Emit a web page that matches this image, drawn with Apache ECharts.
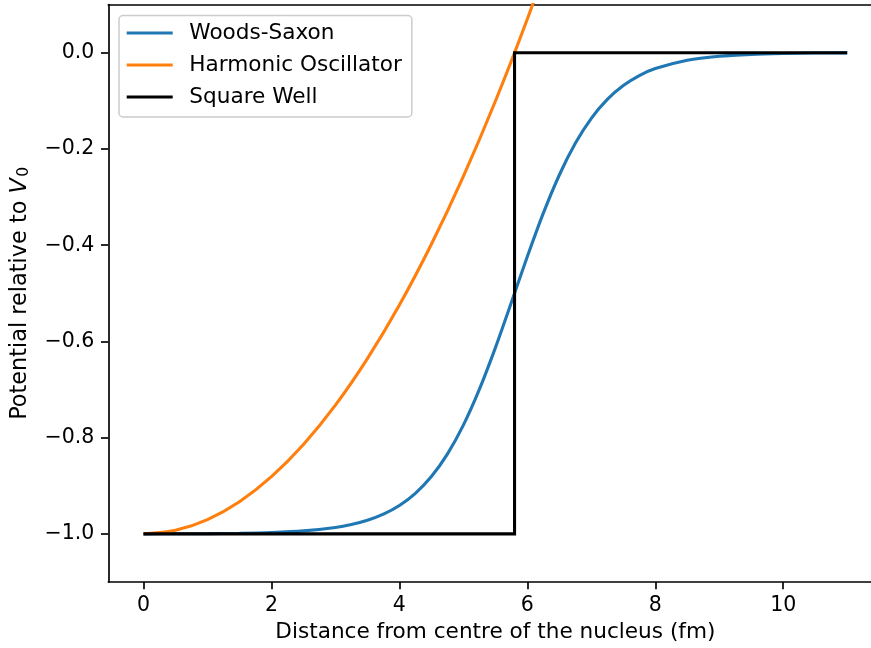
<!DOCTYPE html>
<html>
<head>
<meta charset="utf-8">
<script src="https://cdn.jsdelivr.net/npm/echarts@6/dist/echarts.min.js"></script>
<style>
  html, body { margin: 0; padding: 0; background: #fff; overflow: hidden; }
  #chart { width: 871px; height: 648px; }
</style>
</head>
<body>
<div id="chart"></div>
<script>
// Radial distance samples (fm)
const woodsSaxonR = [0, 0.5, 1, 1.5, 2, 2.5, 3, 3.25, 3.5, 3.75, 4, 4.25, 4.5, 4.75, 5, 5.25, 5.5, 5.75,
  6, 6.25, 6.5, 6.75, 7, 7.25, 7.5, 7.75, 8, 8.5, 9, 9.5, 10, 10.5, 11];
// Woods-Saxon potential, in units of V0
const woodsSaxonV = [-0.9999, -0.9997, -0.9994, -0.9987, -0.9971, -0.9938, -0.9867, -0.9806, -0.9718,
  -0.9591, -0.9410, -0.9157, -0.8808, -0.8342, -0.7739, -0.6997, -0.6134, -0.5192,
  -0.4237, -0.3335, -0.2541, -0.1883, -0.1363, -0.0970, -0.0682, -0.0474, -0.0328,
  -0.0155, -0.0072, -0.0034, -0.0016, -0.0007, -0.0003];

const oscillatorR = [0, 0.5, 1, 1.5, 2, 2.5, 3, 3.5, 4, 4.5, 5, 5.5, 6, 6.5];
// Harmonic oscillator potential, in units of V0
const oscillatorV = [-1.0, -0.9926, -0.9703, -0.9331, -0.8811, -0.8142, -0.7325, -0.6358,
  -0.5244, -0.3980, -0.2568, -0.1008, 0.0702, 0.2560];

// Square well corners
const squareR = [0, 5.8, 5.8, 11];
const squareV = [-1.0, -1.0, 0.0, 0.0];

const xTicks = [0, 2, 4, 6, 8, 10];
const yTicks = [-1.0, -0.8, -0.6, -0.4, -0.2, 0.0];

const seriesNames = ['Woods-Saxon', 'Harmonic Oscillator', 'Square Well'];
const seriesColors = ['#1f77b4', '#ff7f0e', '#000000'];

const pairs = (xs, ys) => xs.map((x, i) => [x, ys[i]]);
const FONT = 'DejaVu Sans';
const TICK_FS = 20.5;
const TEXT_FS = 21.6;
const YNAME_FS = 22.4;
const X_MIN = -0.55, X_MAX = 11.55;

const chart = echarts.init(document.getElementById('chart'), null, { renderer: 'canvas' });

const spine = { show: true, onZero: false, lineStyle: { color: '#000', width: 1.67 } };
const tickStyle = { show: true, length: 7.3, lineStyle: { color: '#000', width: 1.67 } };

chart.setOption({
  animation: false,
  backgroundColor: '#fff',
  grid: {
    left: 108.3, top: 4.6, width: 774.1, height: 577.4,
    show: false,
    containLabel: false,
    outerBoundsMode: 'none'
  },
  legend: {
    orient: 'vertical',
    left: 119, top: 15.5,
    data: seriesNames,
    icon: 'rect',
    itemWidth: 46, itemHeight: 3.1,
    itemGap: 2,
    padding: [2.5, 10, 5, 7.7],
    backgroundColor: 'rgba(255,255,255,0.8)',
    borderColor: '#cccccc', borderWidth: 1.5, borderRadius: 4,
    textStyle: { fontFamily: FONT, fontSize: TEXT_FS, color: '#000', lineHeight: 30, padding: [0, 0, 0, 11.6] }
  },
  xAxis: [
    {
      type: 'value', position: 'bottom',
      min: X_MIN, max: X_MAX,
      splitLine: { show: false },
      axisLine: spine,
      axisTick: Object.assign({}, tickStyle, { customValues: xTicks }),
      axisLabel: { customValues: xTicks, fontFamily: FONT, fontSize: TICK_FS, color: '#000', margin: 13,
        formatter: v => String(v) },
      name: 'Distance from centre of the nucleus (fm)',
      nameLocation: 'middle', nameGap: 39,
      nameTextStyle: { fontFamily: FONT, fontSize: TEXT_FS, color: '#000' }
    },
    {
      // top spine of the frame
      type: 'value', position: 'top',
      min: X_MIN, max: X_MAX,
      splitLine: { show: false },
      axisLine: spine,
      axisTick: { show: false },
      axisLabel: { show: false }
    }
  ],
  yAxis: {
    type: 'value',
    min: -1.1, max: 0.1,
    splitLine: { show: false },
    axisLine: spine,
    axisTick: Object.assign({}, tickStyle, { customValues: yTicks }),
    axisLabel: { customValues: yTicks, fontFamily: FONT, fontSize: TICK_FS, color: '#000', margin: 14,
      formatter: v => (v < -1e-9 ? '\u2212' : '') + Math.abs(v).toFixed(1) },
    name: 'Potential relative to {v|V}{s|0}',
    nameLocation: 'middle', nameGap: 76, nameRotate: 90,
    nameTextStyle: {
      fontFamily: FONT, fontSize: YNAME_FS, color: '#000',
      rich: {
        v: { fontFamily: FONT, fontSize: YNAME_FS, fontStyle: 'italic', color: '#000' },
        s: { fontFamily: FONT, fontSize: 15.6, color: '#000', verticalAlign: 'bottom', padding: [8, 0, 0, 1.5] }
      }
    }
  },
  series: [
    { name: seriesNames[0], type: 'line', data: pairs(woodsSaxonR, woodsSaxonV), smooth: 0.3,
      showSymbol: false, clip: true, color: seriesColors[0], lineStyle: { width: 3.1, color: seriesColors[0] } },
    { name: seriesNames[1], type: 'line', data: pairs(oscillatorR, oscillatorV), smooth: 0.3,
      showSymbol: false, clip: true, color: seriesColors[1], lineStyle: { width: 3.1, color: seriesColors[1] } },
    { name: seriesNames[2], type: 'line', data: pairs(squareR, squareV),
      showSymbol: false, clip: true, color: seriesColors[2], lineStyle: { width: 3.1, color: seriesColors[2], join: 'miter' } }
  ]
});
</script>
</body>
</html>
